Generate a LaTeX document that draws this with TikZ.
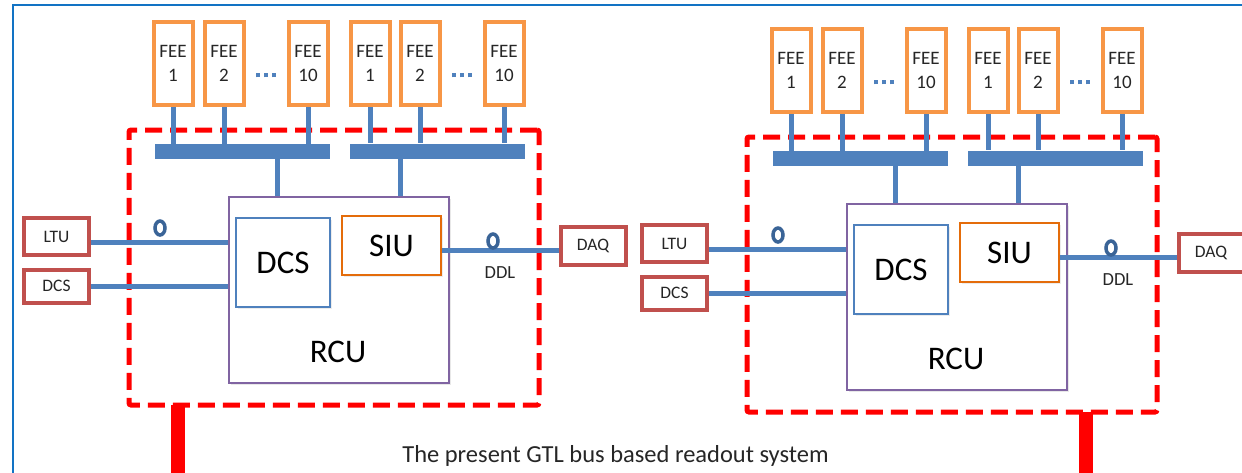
\documentclass[tikz,border=0pt]{standalone}
\usepackage{fontspec}
\setmainfont{Carlito}
\usetikzlibrary{shadows,shapes.geometric}
\definecolor{feeor}{HTML}{F79646}
\definecolor{busbl}{HTML}{4F81BD}
\definecolor{boxrd}{HTML}{C0504D}
\definecolor{siuor}{HTML}{E46C0A}
\definecolor{rcupu}{HTML}{8064A2}
\definecolor{ringbl}{HTML}{3A6497}
\definecolor{framebl}{HTML}{1273C4}
\definecolor{txt}{HTML}{262626}
\tikzset{
  feebox/.style={draw=feeor, line width=4pt, fill=white, minimum width=39pt, minimum height=83pt,
    inner sep=0pt, align=center, font=\fontsize{19}{24}\selectfont, text=txt},
  busbar/.style={fill=busbl, minimum width=175pt, minimum height=15pt, inner sep=0pt},
  wire/.style={draw=busbl, line width=5pt},
  extbox/.style={draw=boxrd, line width=4pt, fill=white, inner sep=0pt, minimum width=65pt,
    font=\fontsize{17.5}{20}\selectfont, text=txt},
  rcubox/.style={draw=rcupu, line width=1.6pt, fill=white, minimum width=220pt, minimum height=186pt,
    drop shadow={shadow xshift=2pt, shadow yshift=-2pt, opacity=0.18}},
  dcsbox/.style={draw=busbl, line width=1.6pt, fill=white, minimum width=94pt, minimum height=89pt,
    inner sep=0pt, font=\fontsize{33}{36}\selectfont, text=black,
    drop shadow={shadow xshift=2pt, shadow yshift=-2pt, opacity=0.15}},
  siubox/.style={draw=siuor, line width=1.8pt, fill=white, minimum width=99pt, minimum height=59pt,
    inner sep=0pt, font=\fontsize{33}{36}\selectfont, text=black,
    drop shadow={shadow xshift=2pt, shadow yshift=-2pt, opacity=0.15}},
  bigtext/.style={font=\fontsize{33}{36}\selectfont, text=black, inner sep=0pt},
  smalltext/.style={font=\fontsize{18.5}{21}\selectfont, text=txt, inner sep=0pt},
  ringmark/.style={ellipse, draw=ringbl, line width=3.5pt, minimum width=10pt, minimum height=14pt, inner sep=0pt},
  reddash/.style={draw=red, line width=5pt, dash pattern=on 17pt off 8pt, rounded corners=2pt,
    minimum width=410pt, minimum height=275pt, inner sep=0pt},
  redbar/.style={draw=red, line width=14pt},
  dotsnode/.style={inner sep=0pt, text=busbl},
}
\newcommand\dotrow{\rule{4.5pt}{4.5pt}\hspace{3.5pt}\rule{4.5pt}{4.5pt}\hspace{3.5pt}\rule{4.5pt}{4.5pt}}
% #1 prefix, #2 dx, #3 dy, #4 red bar x (relative)
\newcommand\rosystem[4]{%
\begin{scope}[shift={(#2,#3)}]
  \node[reddash] (#1frame) at (334,267.5) {};
  \coordinate (#1bt) at (#4,405);
  \coordinate (#1bb) at (#4,520);
  % FEE boxes
  \node[feebox] (#1f1) at (173,63.5) {FEE\\1};
  \node[feebox] (#1f2) at (224,63.5) {FEE\\2};
  \node[feebox] (#1f3) at (308,63.5) {FEE\\10};
  \node[feebox] (#1f4) at (370,63.5) {FEE\\1};
  \node[feebox] (#1f5) at (420,63.5) {FEE\\2};
  \node[feebox] (#1f6) at (504,63.5) {FEE\\10};
  \node[dotsnode] (#1d1) at (266,75) {\dotrow};
  \node[dotsnode] (#1d2) at (462,75) {\dotrow};
  % bus bars
  \node[busbar] (#1ba) at (242.5,151.5) {};
  \node[busbar] (#1bb2) at (437.5,151) {};
  % RCU
  \node[rcubox] (#1rcu) at (339,290) {};
  \node[dcsbox] (#1dcs) at (283,262.5) {DCS};
  \node[siubox] (#1siu) at (391.5,245.5) {SIU};
  \node[bigtext] (#1rcul) at (338,352) {RCU};
  % external boxes
  \node[extbox, minimum height=37pt] (#1ltu) at (56.5,236.5) {LTU};
  \node[extbox, minimum height=33pt] (#1dcx) at (56.5,286) {DCS};
  \node[extbox, minimum height=38pt] (#1daq) at (593,245.5) {DAQ};
  % wires
  \foreach \i in {1,2,3} {\draw[wire] (#1f\i.south) -- (#1f\i.south |- #1ba.north);}
  \foreach \i in {4,5,6} {\draw[wire] (#1f\i.south) -- (#1f\i.south |- #1bb2.north);}
  \coordinate (#1sa) at ([xshift=34.5pt]#1ba.south);
  \coordinate (#1sb) at ([xshift=-37.5pt]#1bb2.south);
  \draw[wire] (#1sa) -- (#1sa |- #1rcu.north);
  \draw[wire] (#1sb) -- (#1sb |- #1rcu.north);
  \coordinate (#1la) at ([yshift=-5.5pt]#1ltu.east);
  \draw[wire] (#1la) -- (#1la -| #1rcu.west);
  \draw[wire] (#1dcx.east) -- (#1dcx.east -| #1rcu.west);
  \coordinate (#1da) at ([yshift=-4.5pt]#1siu.east);
  \draw[wire] (#1da) -- (#1da -| #1daq.west);
  \node[ringmark] (#1r1) at (160,228) {};
  \node[ringmark] (#1r2) at (493,241) {};
  \node[smalltext] (#1ddl) at (500,273) {DDL};
\end{scope}}
\begin{document}
\begin{tikzpicture}[x=1pt,y=-1pt]
  \useasboundingbox (0,0) rectangle (1242,472);
  \coordinate (fa) at (13,480);
  \coordinate (fb) at (13,5);
  \coordinate (fc) at (1250,5);
  \draw[framebl, line width=2.5pt] (fa) -- (fb) -- (fc);
  \rosystem{L}{0}{0}{178}
  \rosystem{R}{618}{7}{467.5}
  \draw[redbar] (Lbt) -- (Lbb);
  \draw[redbar] (Rbt) -- (Rbb);
  \node[anchor=base, font=\fontsize{24.5}{28}\selectfont, text=txt, inner sep=0pt] (cap) at (615.5,462)
    {The present GTL bus based readout system};
\end{tikzpicture}
\end{document}
